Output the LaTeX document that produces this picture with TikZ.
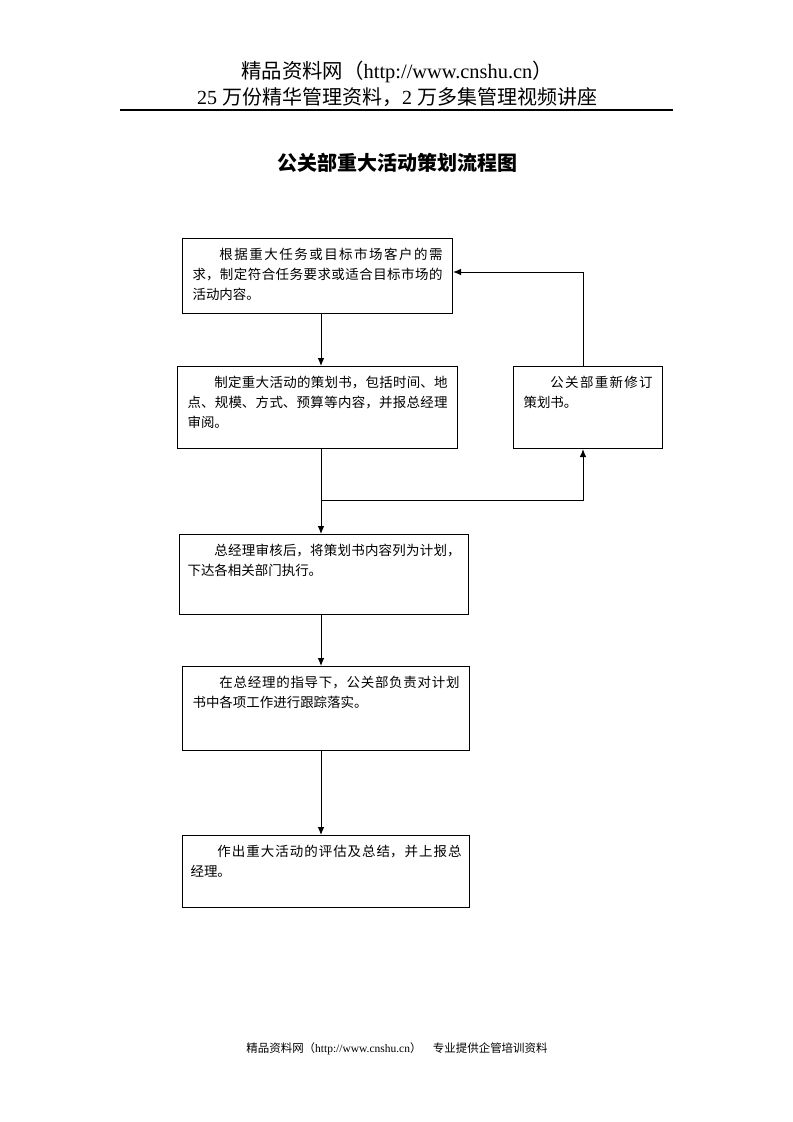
\documentclass[tikz,border=0pt]{standalone}
\usepackage{fontspec}
\setmainfont{Liberation Serif}
\newfontfamily\cjk{Noto Sans CJK SC}
\usetikzlibrary{arrows.meta,calc}
\XeTeXlinebreaklocale "zh"
\XeTeXlinebreakskip=0pt plus 3pt minus 0.4pt
\newcommand{\boxtxt}[3]{\begin{minipage}[t][#2][t]{#1}\setlength{\parindent}{2em}\setlength{\parfillskip}{0pt plus 1fil}\rule{0pt}{16pt}#3\end{minipage}}
\tikzset{
  flowbox/.style={draw, line width=0.8pt, inner xsep=7.5pt, inner ysep=0pt, anchor=north west,
    font=\cjk\fontsize{10.1}{15}\selectfont},
  arr/.style={line width=0.75pt, -{Latex[length=6pt,width=5pt]}},
  plain/.style={line width=0.75pt},
}
\begin{document}
\begin{tikzpicture}[x=0.75pt,y=-0.75pt]
\useasboundingbox (0,0) rectangle (793,1122);
% header
\node (h1) at (397,72) {\fontsize{15.3}{18}\selectfont{\cjk 精品资料网（}http://www.cnshu.cn{\cjk ）}};
\node (h2) at (397,97) {\fontsize{15}{18}\selectfont 25 {\cjk 万份精华管理资料，}2 {\cjk 万多集管理视频讲座}};
\coordinate (rl) at (120,110);
\coordinate (rr) at (673,110);
\draw[line width=0.9pt] (rl) -- (rr);
\node (title) at (397,163) {\cjk\bfseries\fontsize{15}{18}\selectfont 公关部重大活动策划流程图};
% boxes
\node[flowbox] (b1) at (182,238) {\boxtxt{187.5pt}{56.25pt}{根据重大任务或目标市场客户的需\linebreak 求，制定符合任务要求或适合目标市场的\linebreak 活动内容。}};
\node[flowbox] (b2) at (177,366) {\boxtxt{195pt}{61.5pt}{制定重大活动的策划书，包括时间、地\linebreak 点、规模、方式、预算等内容，并报总经理\linebreak 审阅。}};
\node[flowbox] (b3) at (513,366) {\boxtxt{96.75pt}{61.5pt}{公关部重新修订\linebreak 策划书。}};
\node[flowbox, inner xsep=6pt] (b4) at (179,534) {\boxtxt{204.75pt}{60pt}{总经理审核后，将策划书内容列为计划，\linebreak 下达各相关部门执行。}};
\node[flowbox] (b5) at (182,666) {\boxtxt{200.25pt}{63pt}{在总经理的指导下，公关部负责对计划\linebreak 书中各项工作进行跟踪落实。}};
\node[flowbox, inner xsep=6pt] (b6) at (182,835) {\boxtxt{203.25pt}{54pt}{作出重大活动的评估及总结，并上报总\linebreak 经理。}};
% connectors
\coordinate (spine) at (321,0);
\coordinate (rx) at (583,0);
\coordinate (ry) at (0,272);
\coordinate (junc) at (321,500);
\coordinate (jr) at (583,500);
\draw[arr] (b1.south -| spine) -- (b2.north -| spine);
\draw[plain] (b2.south -| spine) -- (junc);
\draw[arr] (junc) -- (b4.north -| spine);
\draw[arr] (junc) -- (jr) -- (b3.south -| rx);
\draw[arr] (b3.north -| rx) -- (rx |- ry) -- (b1.east |- ry);
\draw[arr] (b4.south -| spine) -- (b5.north -| spine);
\draw[arr] (b5.south -| spine) -- (b6.north -| spine);
% footer
\node (foot) at (397,1049) {\fontsize{8.6}{10}\selectfont{\cjk 精品资料网（}http://www.cnshu.cn{\cjk ）\quad 专业提供企管培训资料}};
\end{tikzpicture}
\end{document}
